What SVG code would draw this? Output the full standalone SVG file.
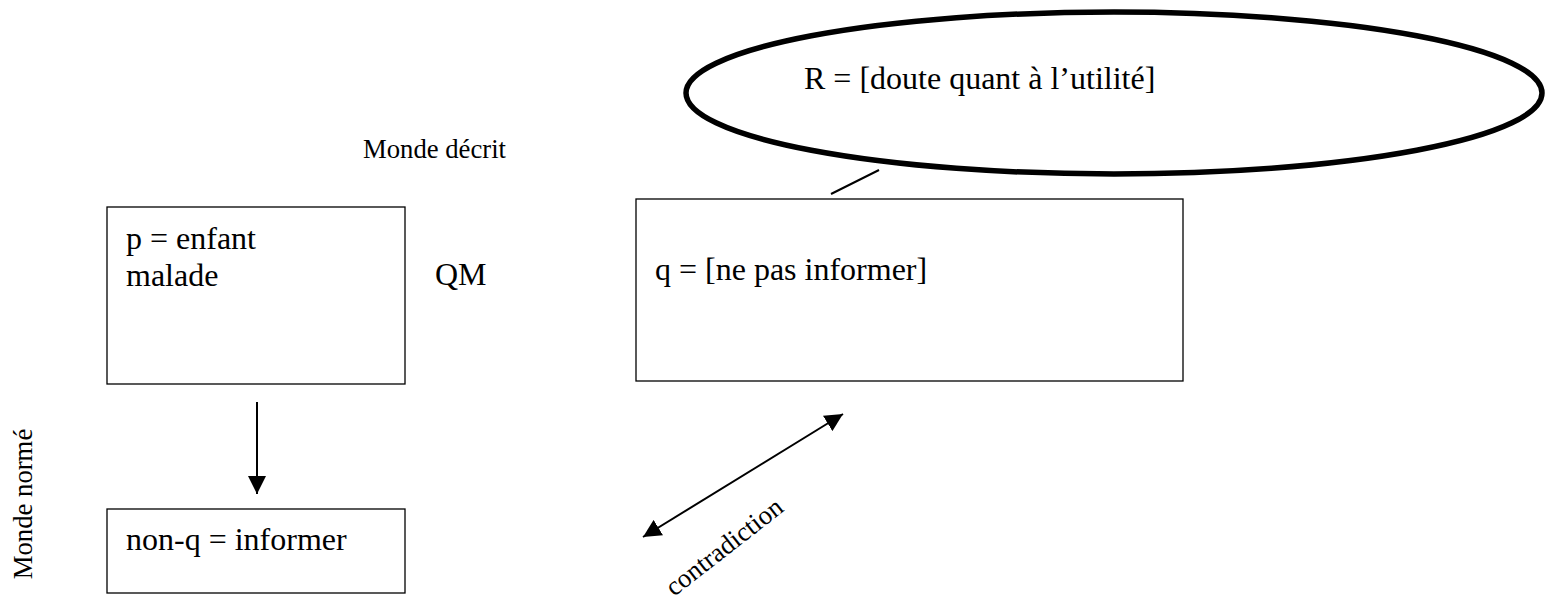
<svg xmlns="http://www.w3.org/2000/svg" width="1552" height="604" viewBox="0 0 1552 604">
<defs>
<style>
text{font-family:"Liberation Serif","Times New Roman",serif;fill:#000}
.big{font-size:32px}
.small{font-size:26.7px}
.box{fill:#fff;stroke:#000;stroke-width:1.3}
.conn{stroke:#000;stroke-width:2;fill:none}
</style>
<marker id="ah" markerUnits="userSpaceOnUse" markerWidth="18" markerHeight="18" viewBox="0 0 16 16" refX="16" refY="8" orient="auto-start-reverse">
<path d="M0,0 L16,8 L0,16 Z" fill="#000"/>
</marker>
</defs>
<rect width="1552" height="604" fill="#fff"/>
<g id="label-monde-decrit"><text class="small" x="363" y="158">Monde décrit</text></g>
<g id="label-monde-norme"><text class="small" transform="translate(32,504) rotate(-90)" text-anchor="middle">Monde normé</text></g>
<g id="node-R">
<ellipse cx="1114" cy="93" rx="428" ry="81" fill="none" stroke="#000" stroke-width="5.5"/>
<text class="big" x="804" y="89">R = [doute quant à l’utilité]</text>
</g>
<g id="node-p">
<rect class="box" x="107" y="207" width="298" height="177"/>
<text class="big" x="126" y="249">p = enfant</text>
<text class="big" x="126" y="286">malade</text>
</g>
<g id="label-QM"><text class="big" x="435" y="285">QM</text></g>
<g id="node-q">
<rect class="box" x="636" y="199" width="547" height="182"/>
<text class="big" x="655" y="280">q = [ne pas informer]</text>
</g>
<g id="node-nonq">
<rect class="box" x="107" y="509" width="298" height="84"/>
<text class="big" x="126" y="550">non-q = informer</text>
</g>
<g id="connectors">
<line class="conn" x1="879" y1="170" x2="831" y2="194" stroke-width="1.5"/>
<line class="conn" x1="257" y1="402" x2="257" y2="494" marker-end="url(#ah)"/>
<line class="conn" x1="643" y1="537" x2="843" y2="414" marker-start="url(#ah)" marker-end="url(#ah)"/>
<text class="small" transform="translate(674,597) rotate(-38)">contradiction</text>
</g>
</svg>
